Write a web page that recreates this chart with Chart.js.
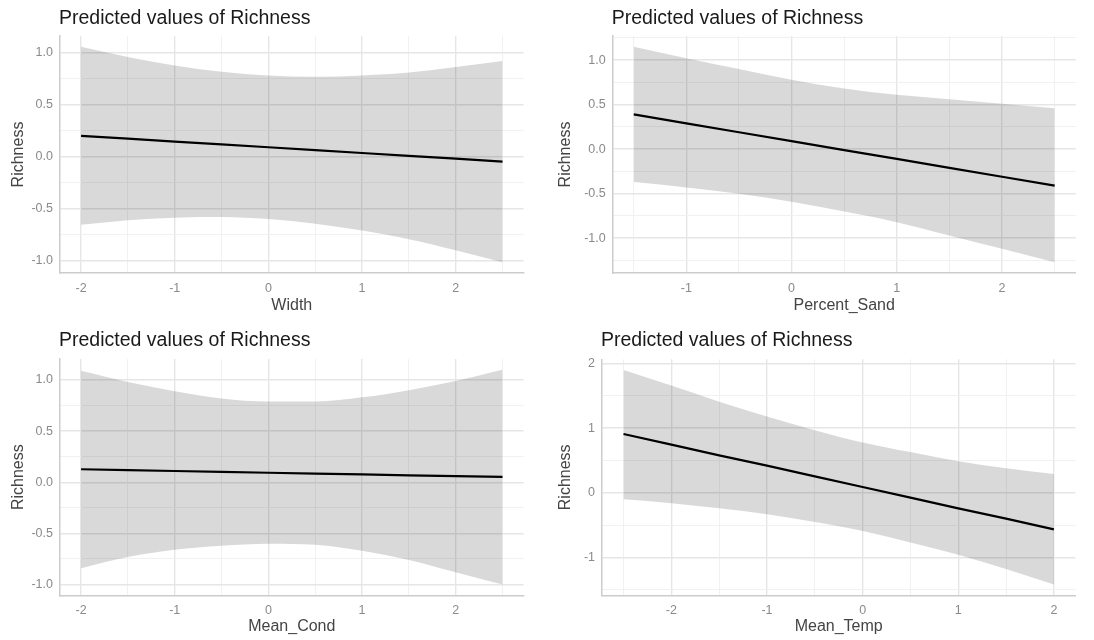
<!DOCTYPE html>
<html>
<head>
<meta charset="utf-8">
<script src="https://cdn.jsdelivr.net/npm/chart.js@4.4.1/dist/chart.umd.min.js"></script>
<style>
  html, body { margin: 0; padding: 0; background: #fff; }
  #wrap { position: relative; width: 1094px; height: 640px; }
  .panel { position: absolute; width: 547px; height: 320px; }
</style>
</head>
<body>
<div id="wrap">
  <div class="panel" style="left:0;top:0"><canvas id="c-width" width="547" height="320"></canvas></div>
  <div class="panel" style="left:547px;top:0"><canvas id="c-sand" width="547" height="320"></canvas></div>
  <div class="panel" style="left:0;top:320px"><canvas id="c-cond" width="547" height="320"></canvas></div>
  <div class="panel" style="left:547px;top:320px"><canvas id="c-temp" width="547" height="320"></canvas></div>
</div>
<script>
// Marginal effects of each predictor on Richness: fitted line + 95% CI band.
var TITLE = 'Predicted values of Richness';
var Y_LABEL = 'Richness';

// Width
var widthX    = [-2, -1.5, -1, -0.5, 0, 0.5, 1, 1.5, 2, 2.5];
var widthFit  = [0.20, 0.173, 0.145, 0.118, 0.09, 0.062, 0.035, 0.007, -0.02, -0.048];
var widthLow  = [-0.655, -0.611, -0.586, -0.58, -0.60, -0.644, -0.71, -0.793, -0.90, -1.014];
var widthHigh = [1.055, 0.957, 0.876, 0.816, 0.78, 0.768, 0.78, 0.807, 0.86, 0.918];
var widthXTicks = [-2, -1, 0, 1, 2];
var widthYTicks = [-1, -0.5, 0, 0.5, 1];

// Percent_Sand
var sandX    = [-1.5, -1, -0.5, 0, 0.5, 1, 1.5, 2, 2.5];
var sandFit  = [0.39, 0.29, 0.19, 0.09, -0.01, -0.11, -0.21, -0.31, -0.41];
var sandLow  = [-0.37, -0.43, -0.50, -0.59, -0.70, -0.82, -0.97, -1.12, -1.27];
var sandHigh = [1.15, 1.02, 0.90, 0.78, 0.68, 0.61, 0.56, 0.51, 0.46];
var sandXTicks = [-1, 0, 1, 2];
var sandYTicks = [-1, -0.5, 0, 0.5, 1];

// Mean_Cond
var condX    = [-2, -1.5, -1, -0.5, 0, 0.5, 1, 1.5, 2, 2.5];
var condFit  = [0.127, 0.118, 0.11, 0.102, 0.093, 0.085, 0.077, 0.068, 0.06, 0.052];
var condLow  = [-0.84, -0.73, -0.66, -0.62, -0.60, -0.61, -0.67, -0.76, -0.88, -1.00];
var condHigh = [1.09, 0.98, 0.89, 0.82, 0.79, 0.79, 0.83, 0.90, 0.99, 1.10];
var condXTicks = [-2, -1, 0, 1, 2];
var condYTicks = [-1, -0.5, 0, 0.5, 1];

// Mean_Temp
var tempX    = [-2.5, -2, -1.5, -1, -0.5, 0, 0.5, 1, 1.5, 2];
var tempFit  = [0.91, 0.745, 0.58, 0.42, 0.255, 0.09, -0.075, -0.24, -0.40, -0.565];
var tempLow  = [-0.10, -0.16, -0.24, -0.33, -0.45, -0.59, -0.77, -0.96, -1.18, -1.42];
var tempHigh = [1.90, 1.66, 1.41, 1.18, 0.97, 0.78, 0.63, 0.49, 0.38, 0.29];
var tempXTicks = [-2, -1, 0, 1, 2];
var tempYTicks = [-1, 0, 1, 2];

var FONT = '"Liberation Sans", Arial, Helvetica, sans-serif';

// ggplot-style 5% expansion around the data
function expand(lo, hi) {
  var pad = (hi - lo) * 0.05;
  return [lo - pad, hi + pad];
}

// majors plus minor breaks halfway between, kept inside the range
function withMinors(majors, range) {
  var step = majors[1] - majors[0];
  var out = [];
  var first = majors[0] - step, last = majors[majors.length - 1] + step;
  for (var v = first; v <= last + 1e-9; v += step / 2) {
    var r = Math.round(v * 1000) / 1000;
    if (r >= range[0] && r <= range[1]) out.push(r);
  }
  return out;
}

function isMajor(majors, v) {
  return majors.some(function (m) { return Math.abs(m - v) < 1e-6; });
}

function pts(xs, ys) {
  return xs.map(function (x, i) { return { x: x, y: ys[i] }; });
}

var panelTitle = {
  id: 'panelTitle',
  afterDraw: function (chart, args, opts) {
    var ctx = chart.ctx;
    ctx.save();
    ctx.font = '19.5px ' + FONT;
    ctx.fillStyle = '#1a1a1a';
    ctx.textBaseline = 'alphabetic';
    ctx.textAlign = 'left';
    ctx.fillText(opts.text, chart.chartArea.left - 1, opts.baseline);
    ctx.restore();
  }
};

function makePanel(id, p) {
  var xRange = expand(p.x[0], p.x[p.x.length - 1]);
  var yRange = expand(Math.min.apply(null, p.low), Math.max.apply(null, p.high));
  var xAll = withMinors(p.xTicks, xRange);
  var yAll = withMinors(p.yTicks, yRange);

  function gridColor(majors) {
    return function (c) { return isMajor(majors, c.tick.value) ? '#e6e6e6' : '#efefef'; };
  }
  function gridWidth(majors) {
    return function (c) { return isMajor(majors, c.tick.value) ? 1.4 : 0.9; };
  }

  new Chart(document.getElementById(id), {
    type: 'line',
    data: {
      datasets: [
        {
          label: 'low', data: pts(p.x, p.low),
          borderWidth: 0, pointRadius: 0, fill: false,
          cubicInterpolationMode: 'monotone'
        },
        {
          label: 'high', data: pts(p.x, p.high),
          borderWidth: 0, pointRadius: 0, fill: '-1',
          backgroundColor: 'rgba(0,0,0,0.15)',
          cubicInterpolationMode: 'monotone'
        },
        {
          label: 'fit', data: pts(p.x, p.fit),
          borderColor: '#000', borderWidth: 2.2, pointRadius: 0, fill: false, tension: 0
        }
      ]
    },
    options: {
      responsive: false,
      animation: false,
      layout: { padding: { top: p.top, right: p.right, left: 0, bottom: 0 } },
      plugins: {
        legend: { display: false },
        tooltip: { enabled: false },
        panelTitle: { text: TITLE, baseline: p.titleY }
      },
      scales: {
        x: {
          type: 'linear', min: xRange[0], max: xRange[1],
          afterBuildTicks: function (s) { s.ticks = xAll.map(function (v) { return { value: v }; }); },
          afterFit: function (s) { s.height = p.xHeight; },
          grid: { color: gridColor(p.xTicks), lineWidth: gridWidth(p.xTicks), drawTicks: false },
          border: { display: true, color: '#cccccc', width: 1.5 },
          ticks: {
            padding: 8, color: '#8a8a8a', font: { family: FONT, size: 12.5 },
            autoSkip: false, maxRotation: 0,
            callback: function (v) { return isMajor(p.xTicks, v) ? String(Math.round(v)) : ''; }
          },
          title: {
            display: true, text: p.xLabel, color: '#444444',
            font: { family: FONT, size: 16 }, padding: { top: 0, bottom: p.xTitlePad }
          }
        },
        y: {
          type: 'linear', min: yRange[0], max: yRange[1],
          afterBuildTicks: function (s) { s.ticks = yAll.map(function (v) { return { value: v }; }); },
          afterFit: function (s) { s.width = p.yWidth; },
          grid: { color: gridColor(p.yTicks), lineWidth: gridWidth(p.yTicks), drawTicks: false },
          border: { display: true, color: '#cccccc', width: 1.5 },
          ticks: {
            padding: 7, color: '#8a8a8a', font: { family: FONT, size: 12.5 },
            autoSkip: false,
            callback: function (v) { return isMajor(p.yTicks, v) ? v.toFixed(p.decimals) : ''; }
          },
          title: {
            display: true, text: Y_LABEL, color: '#444444',
            font: { family: FONT, size: 16 }, padding: { top: 9, bottom: 0 }
          }
        }
      }
    },
    plugins: [panelTitle]
  });
}

makePanel('c-width', {
  x: widthX, fit: widthFit, low: widthLow, high: widthHigh,
  xTicks: widthXTicks, yTicks: widthYTicks, decimals: 1, xLabel: 'Width',
  top: 36, right: 23.4, yWidth: 60, xHeight: 47, titleY: 23.5, xTitlePad: 5
});
makePanel('c-sand', {
  x: sandX, fit: sandFit, low: sandLow, high: sandHigh,
  xTicks: sandXTicks, yTicks: sandYTicks, decimals: 1, xLabel: 'Percent_Sand',
  top: 36, right: 18.3, yWidth: 65.7, xHeight: 47, titleY: 23.5, xTitlePad: 5
});
makePanel('c-cond', {
  x: condX, fit: condFit, low: condLow, high: condHigh,
  xTicks: condXTicks, yTicks: condYTicks, decimals: 1, xLabel: 'Mean_Cond',
  top: 39, right: 23.4, yWidth: 60, xHeight: 44.7, titleY: 26, xTitlePad: 3.5
});
makePanel('c-temp', {
  x: tempX, fit: tempFit, low: tempLow, high: tempHigh,
  xTicks: tempXTicks, yTicks: tempYTicks, decimals: 0, xLabel: 'Mean_Temp',
  top: 39.3, right: 18.6, yWidth: 55, xHeight: 44.7, titleY: 26, xTitlePad: 3.5
});
</script>
</body>
</html>
